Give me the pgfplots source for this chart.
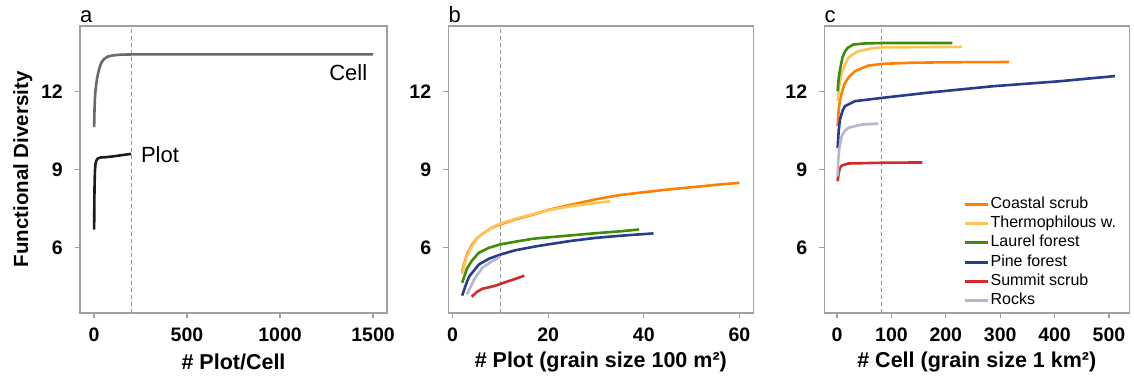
\documentclass[border=0pt]{standalone}
\usepackage{fontspec}
\setmainfont{Liberation Sans}
\usepackage{pgfplots}
\pgfplotsset{compat=1.18}

\definecolor{frame}{RGB}{160,160,160}
\definecolor{vline}{RGB}{150,150,150}
\definecolor{cellgray}{RGB}{105,105,105}
\definecolor{plotblack}{RGB}{28,28,28}
\definecolor{coastal}{RGB}{255,127,0}
\definecolor{thermo}{RGB}{254,196,84}
\definecolor{laurel}{RGB}{62,140,8}
\definecolor{pine}{RGB}{40,60,140}
\definecolor{summit}{RGB}{215,40,40}
\definecolor{rocks}{RGB}{182,182,206}

\newcommand\tickfont{\fontsize{19.5}{20}\selectfont\bfseries}
\newcommand\labfont{\fontsize{21.5}{22}\selectfont\bfseries}
\newcommand\ylabfont{\fontsize{20.5}{21}\selectfont\bfseries}
\newcommand\txtfont{\fontsize{22}{22}\selectfont}
\newcommand\legfont{\fontsize{16}{16}\selectfont}

\pgfplotsset{
  panel/.style={
    height=287pt, scale only axis, anchor=south west,
    ymin=3.5, ymax=14.5, ytick={6,9,12},
    axis line style={draw=frame, line width=1.2pt},
    tick align=outside, major tick length=5pt,
    tick style={draw=frame, line width=1.2pt},
    xtick pos=bottom, ytick pos=left,
    ticklabel style={font=\tickfont, inner sep=0pt},
    xticklabel shift=10pt, yticklabel shift=12pt,
    /pgf/number format/assume math mode=true,
    /pgf/number format/1000 sep={},
    xlabel style={font=\labfont, inner sep=0pt, anchor=center,
                  at={(axis description cs:0.5,-0.1707)}},
    clip=false,
    every axis plot/.append style={line width=2.6pt, line join=round},
  },
  vdash/.style={vline, line width=1pt, dash pattern=on 4pt off 3pt, forget plot},
}

\begin{document}
\begin{tikzpicture}
\path[use as bounding box] (0,0) rectangle (1134pt,-379pt);

% ---------------- panel a ----------------
\begin{axis}[panel, at={(80pt,-313pt)}, width=307pt,
  xmin=-75, xmax=1575, xtick={0,500,1000,1500},
  xlabel={\# Plot/Cell},
  ylabel={Functional Diversity},
  ylabel style={font=\ylabfont, inner sep=0pt, anchor=center,
                at={(axis description cs:-0.186,0.5)}},
]
\addplot[vdash] coordinates {(200,3.5) (200,14.5)};
\addplot[cellgray] coordinates {
  (1,10.62) (2,11.0) (3,11.3) (5,11.7) (7,11.92) (10,12.12) (13,12.3)
  (17,12.5) (22,12.68) (30,12.9) (40,13.1) (55,13.24) (75,13.33)
  (100,13.37) (140,13.4) (200,13.41) (400,13.41) (800,13.41) (1500,13.41)};
\addplot[plotblack] coordinates {
  (1,6.7) (2,7.6) (3,8.3) (5,8.9) (8,9.2) (12,9.33) (20,9.42) (35,9.46)
  (60,9.47) (100,9.5) (150,9.55) (200,9.6)};
\node[font=\txtfont] at (axis cs:1367,12.73) {Cell};
\node[font=\txtfont] at (axis cs:355,9.57) {Plot};
\node[font=\txtfont, anchor=base west, inner sep=0pt] at (rel axis cs:0,1.012) {a};
\end{axis}

% ---------------- panel b ----------------
\begin{axis}[panel, at={(448.3pt,-313pt)}, width=305pt,
  xmin=-0.9, xmax=62.9, xtick={0,20,40,60},
  xlabel={\# Plot (grain size 100 m²)},
]
\addplot[vdash] coordinates {(10,3.5) (10,14.5)};
\addplot[coastal] coordinates {
  (2,5.1) (3,5.75) (4,6.1) (5,6.35) (6,6.5) (8,6.75) (10,6.9) (13,7.08)
  (17,7.28) (20,7.45) (25,7.66) (30,7.86) (35,8.02) (40,8.13) (45,8.23)
  (50,8.32) (55,8.41) (60,8.49)};
\addplot[thermo] coordinates {
  (2,5.0) (3,5.68) (4,6.05) (5,6.33) (6,6.5) (8,6.76) (10,6.93) (13,7.1)
  (17,7.3) (20,7.44) (25,7.6) (30,7.72) (33,7.78)};
\addplot[laurel] coordinates {
  (2,4.66) (3,5.2) (4,5.5) (5.5,5.81) (7.6,6.0) (10,6.13) (13,6.23)
  (17,6.35) (20,6.4) (25,6.48) (30,6.56) (35,6.63) (39,6.7)};
\addplot[pine] coordinates {
  (2,4.17) (3,4.7) (3.5,4.91) (5.5,5.36) (7.6,5.58) (10,5.74) (13,5.9)
  (17,6.04) (20,6.13) (25,6.27) (30,6.38) (35,6.46) (42,6.55)};
\addplot[summit] coordinates {
  (4,4.12) (5,4.3) (6.2,4.43) (8,4.5) (9,4.55) (11,4.68) (13,4.8) (15,4.93)};
\addplot[rocks] coordinates {
  (3,4.21) (4.5,4.79) (6.2,5.23) (8.3,5.49) (10,5.65)};
\node[font=\txtfont, anchor=base west, inner sep=0pt] at (rel axis cs:0,1.012) {b};
\end{axis}

% ---------------- panel c ----------------
\begin{axis}[panel, at={(824.3pt,-313pt)}, width=305pt,
  xmin=-23.5, xmax=537.5, xtick={0,100,200,300,400,500},
  xlabel={\# Cell (grain size 1 km²)},
  legend cell align=left,
  legend image code/.code={\draw[#1, line width=3pt, line cap=butt] (0pt,0pt) -- (23pt,0pt);},
  legend style={at={(0.455,0.404)}, anchor=north west, draw=none, fill=none,
    inner sep=0pt, outer sep=0pt, font=\legfont, row sep=4.2pt, column sep=1.5pt,
    nodes={inner sep=0pt, text height=11.5pt, text depth=3.5pt}},
]
\addplot[vdash] coordinates {(81,3.5) (81,14.5)};
\addplot[coastal] coordinates {
  (1,10.66) (3,11.3) (5.4,11.68) (10,12.05) (14.6,12.32) (22,12.55)
  (33,12.77) (57,12.98) (85,13.05) (134,13.09) (200,13.11) (316,13.12)};
\addlegendentry{Coastal scrub}
\addplot[thermo] coordinates {
  (1,11.62) (4,12.2) (8.5,12.7) (14,13.0) (20.7,13.28) (30,13.43) (39,13.53)
  (63,13.64) (85,13.68) (150,13.69) (230,13.7)};
\addlegendentry{Thermophilous w.}
\addplot[laurel] coordinates {
  (1,12.0) (3,12.5) (5.4,12.83) (10,13.3) (14.6,13.53) (20,13.67) (30,13.79)
  (50,13.83) (85,13.85) (150,13.85) (212,13.85)};
\addlegendentry{Laurel forest}
\addplot[pine] coordinates {
  (1,9.83) (3,10.5) (5.4,10.92) (10,11.25) (14.6,11.43) (33,11.62) (85,11.75)
  (165,11.94) (286,12.19) (408,12.38) (511,12.58)};
\addlegendentry{Pine forest}
\addplot[summit] coordinates {
  (1,8.55) (3,8.85) (5,9.05) (8.5,9.15) (20.7,9.23) (42,9.24) (85,9.26) (157,9.27)};
\addlegendentry{Summit scrub}
\addplot[rocks] coordinates {
  (1,8.74) (2,9.3) (4,9.8) (8.5,10.28) (14,10.48) (20.7,10.6) (45,10.72) (76,10.76)};
\addlegendentry{Rocks}
\node[font=\txtfont, anchor=base west, inner sep=0pt] at (rel axis cs:0,1.012) {c};
\end{axis}
\end{tikzpicture}
\end{document}
